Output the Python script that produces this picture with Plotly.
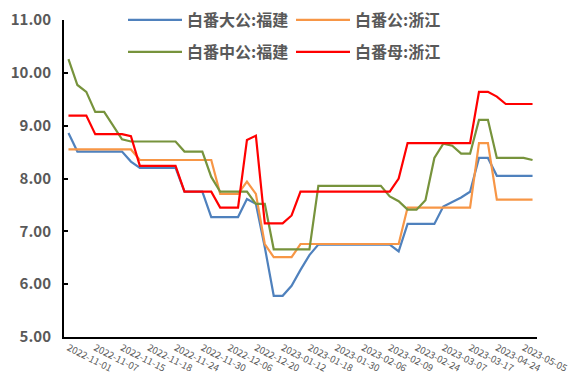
import plotly.graph_objects as go

dates = [
    "2022-11-01", "2022-11-02", "2022-11-04", "2022-11-07", "2022-11-09", "2022-11-11",
    "2022-11-15", "2022-11-16", "2022-11-17", "2022-11-18", "2022-11-21", "2022-11-22",
    "2022-11-24", "2022-11-25", "2022-11-28", "2022-11-30", "2022-12-01", "2022-12-02",
    "2022-12-06", "2022-12-09", "2022-12-14", "2022-12-20", "2022-12-28", "2023-01-05",
    "2023-01-12", "2023-01-13", "2023-01-16", "2023-01-18", "2023-01-19", "2023-01-20",
    "2023-01-30", "2023-02-01", "2023-02-03", "2023-02-06", "2023-02-07", "2023-02-08",
    "2023-02-09", "2023-02-14", "2023-02-20", "2023-02-24", "2023-02-28", "2023-03-03",
    "2023-03-07", "2023-03-10", "2023-03-14", "2023-03-17", "2023-03-24", "2023-04-07",
    "2023-04-24", "2023-04-26", "2023-04-28", "2023-05-05", "2023-05-10",
]
tick_labels = dates[::3]

fujian_large = [
    8.86, 8.51, 8.51, 8.51, 8.51, 8.51, 8.51, 8.32, 8.20, 8.20, 8.20, 8.20, 8.20,
    7.75, 7.75, 7.75, 7.27, 7.27, 7.27, 7.27, 7.61, 7.52, 6.70, 5.78, 5.78, 5.97,
    6.27, 6.55, 6.75, 6.75, 6.75, 6.75, 6.75, 6.75, 6.75, 6.75, 6.75, 6.62, 7.14,
    7.14, 7.14, 7.14, 7.47, 7.56, 7.64, 7.75, 8.39, 8.39, 8.05, 8.05, 8.05, 8.05, 8.05,
]
zhejiang_boar = [
    8.55, 8.55, 8.55, 8.55, 8.55, 8.55, 8.55, 8.55, 8.35, 8.35, 8.35, 8.35, 8.35,
    8.35, 8.35, 8.35, 8.35, 7.71, 7.71, 7.71, 7.94, 7.71, 6.76, 6.51, 6.51, 6.51,
    6.76, 6.76, 6.76, 6.76, 6.76, 6.76, 6.76, 6.76, 6.76, 6.76, 6.76, 6.76, 7.45,
    7.45, 7.45, 7.45, 7.45, 7.45, 7.45, 7.45, 8.67, 8.67, 7.60, 7.60, 7.60, 7.60, 7.60,
]
fujian_medium = [
    10.26, 9.77, 9.64, 9.26, 9.26, 9.01, 8.74, 8.70, 8.70, 8.70, 8.70, 8.70, 8.70,
    8.51, 8.51, 8.51, 8.03, 7.75, 7.75, 7.75, 7.75, 7.52, 7.52, 6.66, 6.66, 6.66,
    6.66, 6.66, 7.86, 7.86, 7.86, 7.86, 7.86, 7.86, 7.86, 7.86, 7.66, 7.57, 7.41,
    7.41, 7.59, 8.39, 8.66, 8.62, 8.47, 8.47, 9.11, 9.11, 8.39, 8.39, 8.39, 8.39, 8.35,
]
zhejiang_sow = [
    9.19, 9.19, 9.19, 8.84, 8.84, 8.84, 8.84, 8.80, 8.24, 8.24, 8.24, 8.24, 8.24,
    7.75, 7.75, 7.75, 7.75, 7.45, 7.45, 7.45, 8.73, 8.81, 7.15, 7.15, 7.15, 7.30,
    7.75, 7.75, 7.75, 7.75, 7.75, 7.75, 7.75, 7.75, 7.75, 7.75, 7.75, 8.00, 8.67,
    8.67, 8.67, 8.67, 8.67, 8.67, 8.67, 8.67, 9.64, 9.64, 9.55, 9.41, 9.41, 9.41, 9.41,
]

series = [
    ("白番大公:福建", fujian_large, "#4F81BD", "legend", 123, 20),
    ("白番公:浙江", zhejiang_boar, "#F79646", "legend2", 291, 20),
    ("白番中公:福建", fujian_medium, "#77933C", "legend3", 123, 52),
    ("白番母:浙江", zhejiang_sow, "#FF0000", "legend4", 291, 52),
]

W, H = 571, 376
ML, MR, MT, MB = 64, 34, 20, 39
PW, PH = W - ML - MR, H - MT - MB

fig = go.Figure()
legends = {}
for name, vals, color, lg, lx, ly in series:
    fig.add_trace(go.Scatter(
        x=dates, y=vals, mode="lines", name=name,
        line=dict(color=color, width=2.2), legend=lg,
    ))
    legends[lg] = dict(
        xref="paper", yref="paper",
        x=(lx - ML) / PW, y=(H - MB - ly) / PH, xanchor="left", yanchor="middle",
        orientation="h", itemwidth=54, bgcolor="rgba(0,0,0,0)",
        borderwidth=0,
        font=dict(family="Noto Sans CJK SC", size=16, color="#595959", weight="bold"),
    )

fig.update_layout(
    width=W, height=H,
    margin=dict(l=ML, r=MR, t=MT, b=MB, autoexpand=False),
    paper_bgcolor="white", plot_bgcolor="white",
    showlegend=True,
    **legends,
    xaxis=dict(
        type="category", range=[-0.5, len(dates) - 0.5],
        tickmode="array", tickvals=tick_labels, ticktext=tick_labels,
        tickangle=27, showgrid=False, zeroline=False,
        showline=True, linecolor="black", linewidth=2, ticks="",
        tickfont=dict(family="Noto Sans CJK SC", size=9.5, color="#595959"),
    ),
    yaxis=dict(
        range=[5, 11], tickmode="array", tickvals=[5, 6, 7, 8, 9, 10, 11],
        tickformat=".2f", showgrid=False, zeroline=False,
        showline=True, linecolor="black", linewidth=2,
        ticks="inside", ticklen=4, tickwidth=2, tickcolor="black",
        ticklabelstandoff=8,
        tickfont=dict(family="Noto Sans CJK SC", size=15, color="#595959", weight="bold"),
    ),
)

fig.write_html("out.html")
